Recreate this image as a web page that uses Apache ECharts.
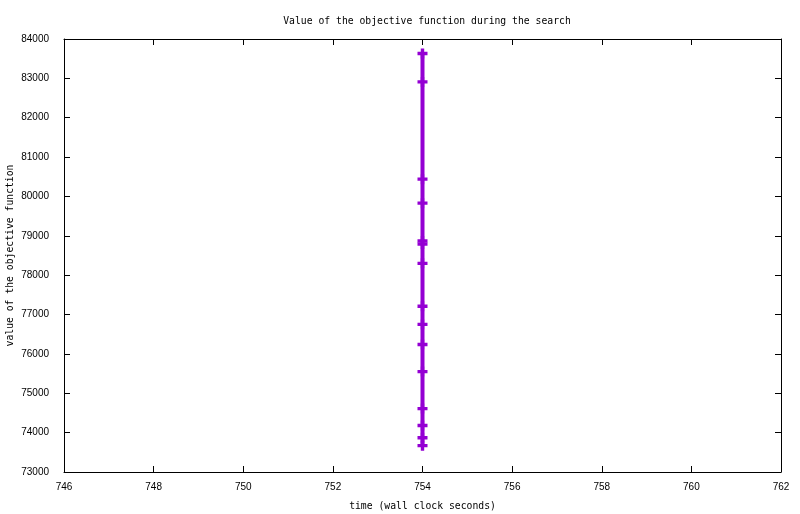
<!DOCTYPE html>
<html>
<head>
<meta charset="utf-8">
<script src="https://cdn.jsdelivr.net/npm/echarts@6/dist/echarts.min.js"></script>
<style>html,body{margin:0;padding:0;background:#fff}#c{width:800px;height:514px}</style>
</head>
<body>
<div id="c"></div>
<script>
const timeSeconds = [754, 754, 754, 754, 754, 754, 754, 754, 754, 754, 754, 754, 754, 754, 754];
const objectiveValues = [83630, 82910, 80440, 79830, 78870, 78790, 78300, 77210, 76750, 76240, 75550, 74610, 74180, 73870, 73670];
const xTicks = {min: 746, max: 762, interval: 2};
const yTicks = {min: 73000, max: 84000, interval: 1000};

const mono = 'DejaVu Sans Mono';
const sans = 'Liberation Sans';
const plusPath = 'path://M3.3,0h3.4v3.3h3.3v3.4h-3.3v3.3h-3.4v-3.3h-3.3v-3.4h3.3z';

const chart = echarts.init(document.getElementById('c'), null, {renderer: 'canvas'});
const axisLine = {show: true, lineStyle: {color: '#000', width: 1}};
const tick = {show: true, inside: true, length: 6, lineStyle: {color: '#000', width: 1}};
const fmt = v => String(v);
chart.setOption({
  animation: false,
  backgroundColor: '#fff',
  title: {
    text: 'Value of the objective function during the search',
    left: 422, top: 11, textAlign: 'center',
    textStyle: {fontFamily: mono, fontSize: 9.75, fontWeight: 'normal', color: '#000'}
  },
  grid: {left: 64, right: 19, top: 39, bottom: 42, containLabel: false, outerBoundsMode: 'none'},
  xAxis: [{
    type: 'value', position: 'bottom', min: xTicks.min, max: xTicks.max, interval: xTicks.interval,
    name: 'time (wall clock seconds)', nameLocation: 'middle', nameGap: 29, nameMoveOverlap: false,
    nameTextStyle: {fontFamily: mono, fontSize: 9.75, color: '#000'},
    axisLine, axisTick: tick, splitLine: {show: false},
    axisLabel: {margin: 10, fontFamily: sans, fontSize: 10, color: '#000', formatter: fmt}
  }, {
    type: 'value', position: 'top', min: xTicks.min, max: xTicks.max, interval: xTicks.interval,
    axisLine, axisTick: tick, splitLine: {show: false}, axisLabel: {show: false}
  }],
  yAxis: [{
    type: 'value', position: 'left', min: yTicks.min, max: yTicks.max, interval: yTicks.interval,
    name: 'value of the objective function', nameLocation: 'middle', nameGap: 49, nameMoveOverlap: false,
    nameTextStyle: {fontFamily: mono, fontSize: 9.75, color: '#000'},
    axisLine, axisTick: tick, splitLine: {show: false},
    axisLabel: {margin: 15, fontFamily: sans, fontSize: 10, color: '#000', formatter: fmt}
  }, {
    type: 'value', position: 'right', min: yTicks.min, max: yTicks.max, interval: yTicks.interval,
    axisLine, axisTick: tick, splitLine: {show: false}, axisLabel: {show: false}
  }],
  series: [{
    type: 'line',
    xAxisIndex: 0, yAxisIndex: 0,
    data: timeSeconds.map((t, i) => [t, objectiveValues[i]]),
    lineStyle: {color: '#9400D3', width: 4},
    itemStyle: {color: '#9400D3'},
    symbol: plusPath,
    symbolSize: 10,
    showAllSymbol: true
  }]
});
</script>
</body>
</html>
